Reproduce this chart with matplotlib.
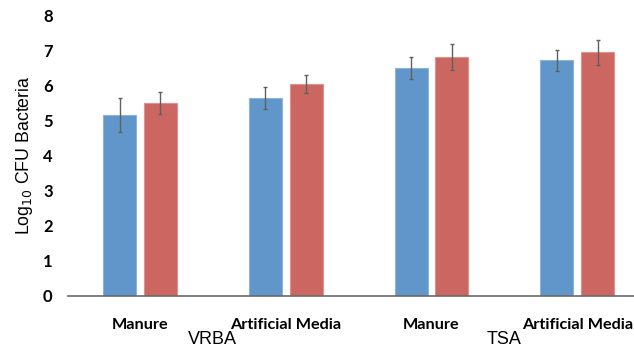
import numpy as np
import matplotlib
matplotlib.use('Agg')
import matplotlib.pyplot as plt

# data
categories = ['Manure', 'Artificial Media', 'Manure', 'Artificial Media']
groups = ['VRBA', 'TSA']
blue_vals = [5.15, 5.63, 6.49, 6.71]
blue_err = [0.48, 0.31, 0.31, 0.30]
red_vals = [5.49, 6.03, 6.80, 6.94]
red_err = [0.32, 0.26, 0.37, 0.35]
yticks = [0, 1, 2, 3, 4, 5, 6, 7, 8]

W, H = 634, 349
fig = plt.figure(figsize=(W / 100, H / 100), dpi=100)
ax = fig.add_axes([68 / W, (H - 296) / H, 1 - 68 / W, (296 - 15) / H])

x = np.arange(len(categories))
bw = 0.226
off = 0.14
ax.bar(x - off, blue_vals, bw, color='#6096C9', edgecolor='#8DB3DA', linewidth=0.8,
       yerr=blue_err, error_kw=dict(ecolor='#606060', elinewidth=1, capsize=1.5, capthick=1))
ax.bar(x + off, red_vals, bw, color='#CC6661', edgecolor='#DE918D', linewidth=0.8,
       yerr=red_err, error_kw=dict(ecolor='#606060', elinewidth=1, capsize=1.5, capthick=1))

ax.set_xlim(-0.494, 3.39)
ax.set_ylim(0, 8)
ax.set_yticks(yticks)
ax.set_yticklabels([str(t) for t in yticks], fontfamily='Lato', fontweight='bold', fontsize=12)
ax.tick_params(axis='y', length=0, pad=11)
ax.set_xticks(x)
ax.set_xticklabels(categories, fontfamily='Lato', fontweight='bold', fontsize=11.7)
ax.tick_params(axis='x', length=0, pad=16)

for s in ['top', 'right', 'left']:
    ax.spines[s].set_visible(False)
ax.spines['bottom'].set_color('#6a6a6a')
ax.spines['bottom'].set_linewidth(1.2)

ax.set_ylabel('Log$_{10}$ CFU Bacteria', fontfamily='Liberation Sans', fontsize=12.8, labelpad=6)

# group labels under the category labels
for i, g in enumerate(groups):
    ax.text(2 * i + 0.5, -0.172, g, transform=ax.get_xaxis_transform(), ha='center',
            va='baseline', fontfamily='Liberation Sans', fontsize=13)

fig.savefig('out.png', dpi=100)
